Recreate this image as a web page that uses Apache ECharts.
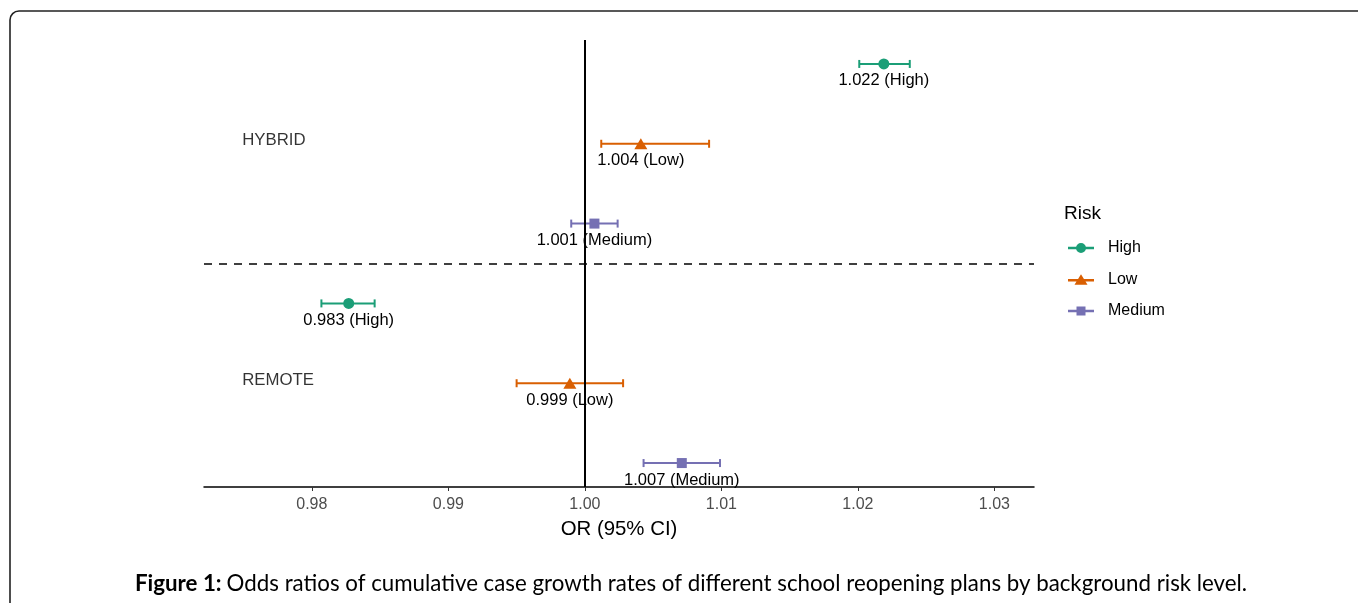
<!DOCTYPE html>
<html>
<head>
<meta charset="utf-8">
<script src="https://cdn.jsdelivr.net/npm/echarts@6/dist/echarts.min.js"></script>
<style>html,body{margin:0;padding:0;background:#fff;}#c{width:1358px;height:603px;}</style>
</head>
<body>
<div id="c"></div>
<script>
// ---- data ----
const plans = ['HYBRID', 'REMOTE'];
const risks = ['High', 'Low', 'Medium'];
const hybridOR    = [1.0219, 1.0041, 1.0007];
const hybridLower = [1.0201, 1.0012, 0.9990];
const hybridUpper = [1.0238, 1.0091, 1.0024];
const remoteOR    = [0.9827, 0.9989, 1.0071];
const remoteLower = [0.9807, 0.9950, 1.0043];
const remoteUpper = [0.9846, 1.0028, 1.0099];
const xTicks = [0.98, 0.99, 1.00, 1.01, 1.02, 1.03];
const captionBold = 'Figure 1:';
const captionText = 'Odds ratios of cumulative case growth rates of different school reopening plans by background risk level.';

const FONT = "'Liberation Sans', Arial, Helvetica, sans-serif";
const colors = { High: '#1B9E77', Low: '#D95F02', Medium: '#7570B3' };
const symbols = { High: 'circle', Low: 'triangle', Medium: 'rect' };
const symbolSizes = { High: 11, Low: [13, 11], Medium: 10 };
const legendIcons = {
  High: 'path://M0,5.8h26v2.4H0z M8,7a5,5 0 1,1 10,0a5,5 0 1,1 -10,0z',
  Low: 'path://M0,5.8h26v2.4H0z M13,1L19.5,11.5L6.5,11.5z',
  Medium: 'path://M0,5.8h26v2.4H0z M8.5,2.5h9v9h-9z'
};
// row index of each plan/risk combination (top row = 6)
function rowOf(p, r) { return (plans.length - 1 - p) * risks.length + (risks.length - r); }

const series = [];
risks.forEach((risk, r) => {
  const pts = [], bars = [];
  plans.forEach((plan, p) => {
    const or = p === 0 ? hybridOR[r] : remoteOR[r];
    const lo = p === 0 ? hybridLower[r] : remoteLower[r];
    const hi = p === 0 ? hybridUpper[r] : remoteUpper[r];
    const y = rowOf(p, r);
    pts.push({ value: [or, y], label: { formatter: or.toFixed(3) + ' (' + risk + ')' } });
    bars.push([y, lo, hi]);
  });
  series.push({
    name: risk, type: 'custom', z: 2,
    data: bars,
    renderItem: function (params, api) {
      const y = api.value(0);
      const a = api.coord([api.value(1), y]);
      const b = api.coord([api.value(2), y]);
      const c = 4;
      const st = { stroke: colors[risk], lineWidth: 2 };
      return { type: 'group', children: [
        { type: 'line', shape: { x1: a[0], y1: a[1], x2: b[0], y2: b[1] }, style: st },
        { type: 'line', shape: { x1: a[0], y1: a[1] - c, x2: a[0], y2: a[1] + c }, style: st },
        { type: 'line', shape: { x1: b[0], y1: b[1] - c, x2: b[0], y2: b[1] + c }, style: st }
      ]};
    },
    encode: { x: [1, 2], y: 0 }
  });
  series.push({
    name: risk, type: 'scatter', z: 3,
    symbol: symbols[risk], symbolSize: symbolSizes[risk],
    itemStyle: { color: colors[risk], opacity: 1 },
    label: { show: true, position: 'inside', offset: [0, 17], color: '#000', fontSize: 16.5, fontFamily: FONT },
    emphasis: { disabled: true },
    data: pts
  });
});

// plan labels + reference lines
series.push({
  name: 'plans', type: 'scatter', z: 10, symbolSize: 0, silent: true,
  label: { show: true, position: 'right', distance: 0, color: '#000', fontSize: 16.8, fontFamily: FONT, formatter: p => p.data.name },
  data: plans.map((pl, p) => ({ name: pl, value: [0.9749, rowOf(p, 1) + 0.04] })),
  markLine: {
    silent: true, symbol: 'none', label: { show: false },
    emphasis: { disabled: true },
    data: [
      { yAxis: 3.5, lineStyle: { color: '#000', width: 1.5, type: [8, 7] } },
      { xAxis: 1, lineStyle: { color: '#000', width: 2, type: 'solid' } }
    ]
  }
});

const chart = echarts.init(document.getElementById('c'));
chart.setOption({
  animation: false,
  backgroundColor: '#fff',
  grid: { left: 204, right: 324, top: 40, bottom: 116 },
  xAxis: {
    type: 'value', min: 0.9721, max: 1.0329,
    splitLine: { show: false },
    axisLine: { show: true, lineStyle: { color: '#000', width: 1.5 } },
    axisTick: { show: true, length: 4, lineStyle: { color: '#333' }, customValues: xTicks },
    axisLabel: { color: '#4D4D4D', fontSize: 16, margin: 10, fontFamily: FONT, customValues: xTicks, formatter: v => Number(v).toFixed(2) },
    name: 'OR (95% CI)', nameLocation: 'middle', nameGap: 32,
    nameTextStyle: { color: '#000', fontSize: 20.4, fontFamily: FONT }
  },
  yAxis: { type: 'value', min: 0.7, max: 6.3, show: false, splitLine: { show: false } },
  legend: {
    orient: 'vertical', left: 1063, top: 235,
    itemWidth: 26, itemHeight: 14, itemGap: 15.5,
    selectedMode: false,
    textStyle: { color: '#000', fontSize: 16, fontFamily: FONT, padding: [0, 0, 0, 9] },
    data: risks.map(r => ({ name: r, icon: legendIcons[r], itemStyle: { color: colors[r] } }))
  },
  title: [
    { text: 'Risk', left: 1059, top: 199, textStyle: { color: '#000', fontSize: 19, fontWeight: 'normal', fontFamily: FONT } },
    { text: '{b|' + captionBold + '} {n|' + captionText + '}', left: 135, top: 573, padding: 0,
      textStyle: { fontWeight: 'normal', rich: {
        b: { fontWeight: 'bold', fontSize: 22.3, color: '#000', fontFamily: 'Lato, sans-serif' },
        n: { fontWeight: 'normal', fontSize: 22.3, color: '#000', fontFamily: 'Lato, sans-serif' }
      } } }
  ],
  graphic: [{
    type: 'rect', silent: true, z: 100,
    shape: { x: 10, y: 11, width: 1500, height: 800, r: [9, 0, 0, 0] },
    style: { fill: 'none', stroke: '#222', lineWidth: 1.6 }
  }],
  series: series
});
</script>
</body>
</html>
